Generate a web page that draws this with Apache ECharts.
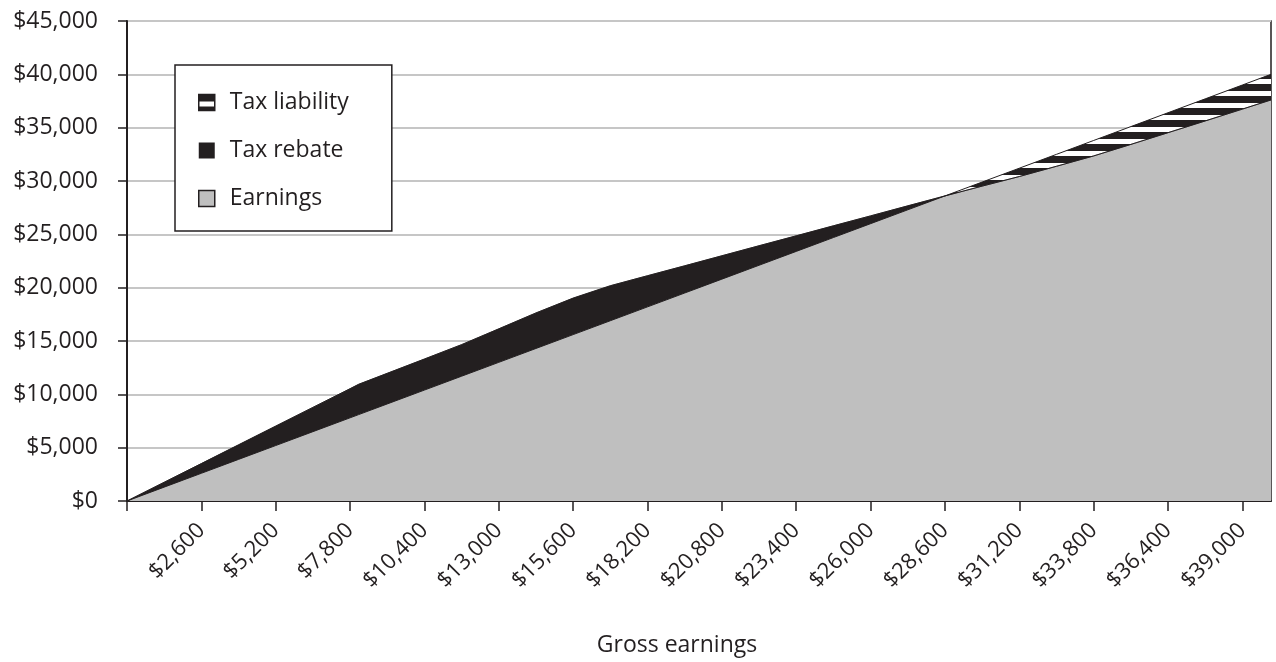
<!DOCTYPE html>
<html>
<head>
<meta charset="utf-8">
<script src="https://cdn.jsdelivr.net/npm/echarts@6/dist/echarts.min.js"></script>
<style>
  html, body { margin: 0; padding: 0; background: #fff; }
  #chart { width: 1276px; height: 662px; }
</style>
</head>
<body>
<div id="chart"></div>
<script>
// Gross annual earnings at each sample point (x axis)
const gross = [0, 1300, 2600, 3900, 5200, 6500, 7800, 8100, 9100, 10400, 11700, 13000, 14300,
  15600, 16900, 18200, 19500, 20800, 22100, 23400, 24700, 26000, 27300, 28600,
  29900, 31200, 32500, 33800, 35100, 36400, 37700, 39000, 40000];

// Earnings kept after tax
const earnings = [0, 1300, 2600, 3900, 5200, 6500, 7800, 8100, 9100, 10400, 11700, 13000, 14300,
  15600, 16900, 18200, 19500, 20800, 22100, 23400, 24700, 26000, 27300, 28600,
  29520, 30420, 31380, 32350, 33430, 34530, 35630, 36740, 37600];

// Net tax rebate received
const rebate = [0, 455, 910, 1365, 1820, 2275, 2730, 2840, 2870, 2910, 2960, 3140, 3330,
  3420, 3280, 2920, 2550, 2190, 1830, 1460, 1100, 730, 370, 0,
  0, 0, 0, 0, 0, 0, 0, 0, 0];

// Net tax liability paid
const taxLiability = [0, 0, 0, 0, 0, 0, 0, 0, 0, 0, 0, 0, 0,
  0, 0, 0, 0, 0, 0, 0, 0, 0, 0, 0,
  380, 780, 1120, 1450, 1670, 1870, 2070, 2260, 2400];

// Axis tick values
const xTickValues = [0, 2600, 5200, 7800, 10400, 13000, 15600, 18200, 20800, 23400,
  26000, 28600, 31200, 33800, 36400, 39000];
const xLabelValues = xTickValues.slice(1);

const INK = '#231f20';
const GREY = '#bfbfbf';
const FONT = '"Open Sans", "Noto Sans", sans-serif';
const FS = 23;

// Horizontal black/white stripes for the tax liability fill
function stripePattern() {
  const c = document.createElement('canvas');
  c.width = 8;
  c.height = 12;
  const ctx = c.getContext('2d');
  ctx.fillStyle = '#ffffff';
  ctx.fillRect(0, 0, 8, 12);
  ctx.fillStyle = INK;
  ctx.fillRect(0, 0, 8, 7);
  return { image: c, repeat: 'repeat' };
}
const stripes = stripePattern();

// Rows are [amount, gross] so the amount column is the one that gets stacked
const rows = (ys) => gross.map((g, i) => [ys[i], g]);
const money = (v) => '$' + Number(v).toLocaleString('en-US');

const chart = echarts.init(document.getElementById('chart'), null, { renderer: 'canvas' });

chart.setOption({
  animation: false,
  backgroundColor: '#ffffff',
  textStyle: { fontFamily: FONT },
  grid: {
    left: 127, right: 5, top: 21, bottom: 148,
    show: true, borderColor: INK, borderWidth: 1.5, backgroundColor: 'transparent'
  },
  legend: {
    orient: 'vertical',
    left: 175, top: 65,
    padding: [26, 43, 21, 23],
    itemGap: 25,
    itemWidth: 16, itemHeight: 16,
    icon: 'rect',
    backgroundColor: '#ffffff',
    borderColor: INK, borderWidth: 1.5,
    selectedMode: false,
    textStyle: { fontFamily: FONT, fontSize: FS, color: INK, lineHeight: 21, padding: [0, 0, 0, 10] },
    data: [
      { name: 'Tax liability', itemStyle: { color: stripes, borderColor: INK, borderWidth: 1.5 } },
      { name: 'Tax rebate', itemStyle: { color: INK, borderColor: INK, borderWidth: 0 } },
      { name: 'Earnings', itemStyle: { color: GREY, borderColor: INK, borderWidth: 1.5 } }
    ]
  },
  xAxis: {
    type: 'value',
    min: 0, max: 40000, interval: 2600,
    name: 'Gross earnings',
    nameLocation: 'middle',
    nameGap: 133,
    nameTextStyle: { fontFamily: FONT, fontSize: FS, color: INK, padding: [0, 44, 0, 0] },
    axisLine: { show: true, onZero: false, lineStyle: { color: INK, width: 2 } },
    axisTick: { show: true, length: 10, customValues: xTickValues, lineStyle: { color: INK, width: 1.5 } },
    axisLabel: {
      customValues: xLabelValues,
      rotate: 45, margin: 26,
      fontFamily: FONT, fontSize: 22, color: INK,
      formatter: money
    },
    splitLine: { show: false }
  },
  yAxis: {
    type: 'value',
    min: 0, max: 45000, interval: 5000,
    axisLine: { show: true, lineStyle: { color: INK, width: 2 } },
    axisTick: { show: true, length: 9, lineStyle: { color: INK, width: 1.5 } },
    axisLabel: { fontFamily: FONT, fontSize: FS, color: INK, margin: 29, formatter: money },
    splitLine: { show: true, lineStyle: { color: '#c6c6c6', width: 2 } }
  },
  series: [
    {
      name: 'Earnings', type: 'line', stack: 'total', symbol: 'none',
      encode: { x: 1, y: 0 },
      data: rows(earnings),
      itemStyle: { color: GREY },
      lineStyle: { color: INK, width: 1 },
      areaStyle: { color: GREY, opacity: 1 }
    },
    {
      name: 'Tax rebate', type: 'line', stack: 'total', symbol: 'none',
      encode: { x: 1, y: 0 },
      data: rows(rebate),
      itemStyle: { color: INK },
      lineStyle: { color: INK, width: 0.5 },
      areaStyle: { color: INK, opacity: 1 }
    },
    {
      name: 'Tax liability', type: 'line', stack: 'total', symbol: 'none',
      encode: { x: 1, y: 0 },
      data: rows(taxLiability),
      itemStyle: { color: INK },
      lineStyle: { color: INK, width: 1 },
      areaStyle: { color: stripes, opacity: 1 }
    }
  ]
});
</script>
</body>
</html>
